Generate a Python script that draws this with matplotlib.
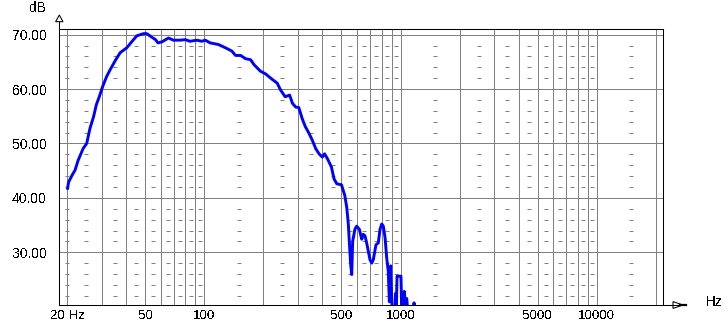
import numpy as np
import matplotlib
matplotlib.use("Agg")
import matplotlib.pyplot as plt
from matplotlib.patches import Polygon

plt.rcParams['font.family'] = ['Liberation Sans', 'DejaVu Sans']
plt.rcParams['text.antialiased'] = False

# ---- data ----
freq_hz = [20, 20.3, 21.1, 21.9, 22.7, 24.1, 25.1, 26.1, 27.2, 28.1, 29.1, 30.3,
           31.8, 33.1, 35.3, 37.2, 40.2, 42.8, 45.2, 48.9, 50.8, 53.7, 56.3, 58.0,
           60.8, 65.6, 69.5, 75.5, 79.9, 84.3, 91.4, 97, 101, 107, 118, 128, 138,
           144, 153, 162, 172, 179, 193, 205, 218, 235, 244, 258, 272, 281, 292,
           303, 315, 327, 341, 355, 369, 384, 399, 410, 424, 444, 458, 473, 500,
           520, 532, 542, 548, 557, 564, 570, 586, 598, 617, 634, 646, 659, 672,
           699, 713, 726, 750, 770, 786, 802, 817, 834, 850, 866, 877, 891, 902,
           915, 935, 942, 950, 960, 1005, 1015, 1025, 1035, 1045, 1060, 1075,
           1090, 1160, 1172, 1185, 1300]
level_db = [41.5, 42.9, 44.1, 45.1, 46.9, 49.1, 50.0, 52.8, 54.9, 57.1, 58.6, 60.5,
            62.4, 63.6, 65.4, 66.7, 67.6, 68.8, 69.8, 70.2, 70.2, 69.6, 69.1, 68.5,
            68.7, 69.4, 69.0, 69.0, 69.1, 68.8, 69.0, 68.8, 69.0, 68.5, 68.2, 67.6, 67.0,
            66.2, 66.2, 65.6, 65.4, 64.5, 63.3, 62.8, 62.0, 61.1, 59.9, 58.6, 58.9, 57.4, 56.7,
            56.6, 54.6, 53.1, 51.9, 50.6, 49.1, 48.1, 47.5, 48.1, 47.2, 45.7, 43.5, 42.6, 42.4,
            40.4, 38.2, 35.1, 32.0, 27.7, 25.9, 32.0, 34.3, 34.8, 34.2, 32.4, 33.3, 33.0, 31.7,
            28.6, 28.0, 28.6, 31.4, 31.7, 34.2, 35.2, 34.8, 32.7, 29.0, 26.5, 20.9, 27.5, 20.9,
            18.0, 18.0, 22.4, 19.0, 25.6, 25.6, 19.0, 22.5, 19.5, 22.8, 20.0, 21.5,
            19.0, 18.0, 20.7, 18.0, 15.0]

major_ticks = [20, 50, 100, 500, 1000, 5000, 10000]
major_labels = ["20 Hz", "50", "100", "500", "1000", "5000", "10000"]
minor_grid = [30, 40, 60, 70, 80, 90, 200, 300, 400, 600, 700, 800, 900,
              2000, 3000, 4000, 6000, 7000, 8000, 9000, 20000]
y_ticks = [30, 40, 50, 60, 70]
y_labels = ["30.00", "40.00", "50.00", "60.00", "70.00"]
dash_freqs = [20, 25, 35, 45, 55, 65, 75, 85, 95, 150, 250, 350, 450, 550, 650,
              750, 850, 950, 1500, 2500, 3500, 4500, 5500, 6500, 7500, 8500,
              9500, 15000]
dash_levels = [22, 24, 26, 28, 32, 34, 36, 38, 42, 44, 46, 48, 52, 54, 56, 58,
               62, 64, 66, 68]

W, H = 728, 326
fig = plt.figure(figsize=(W / 100, H / 100), dpi=100)
ax_l, ax_r, ax_t, ax_b = 59.3, 663.3, 29.3, 305.0
ax = fig.add_axes([ax_l / W, 1 - ax_b / H, (ax_r - ax_l) / W, (ax_b - ax_t) / H])
aw, ah = ax_r - ax_l, ax_b - ax_t

ax.set_xscale('log')
ax.set_xlim(18.2, 21870)
ax.set_ylim(20.3, 71.0)

grid_c = '#808080'
ax.set_xticks(major_ticks)
ax.set_xticklabels(major_labels)
ax.set_xticks(minor_grid, minor=True)
ax.set_xticklabels([], minor=True)
ax.set_yticks(y_ticks)
ax.set_yticklabels(y_labels)
ax.tick_params(which='both', length=0)
ax.tick_params(axis='x', pad=3.5, labelsize=9.6)
ax.tick_params(axis='y', pad=9, labelsize=10)
ax.grid(True, which='both', color=grid_c, linewidth=0.72, antialiased=False)
ax.set_axisbelow(True)

# small minor dashes
dx = np.repeat(dash_freqs, len(dash_levels))
dy = np.tile(dash_levels, len(dash_freqs))
ax.plot(dx, dy, linestyle='none', marker='_', markersize=3.2,
        markeredgewidth=0.72, color=grid_c, antialiased=False, zorder=1)

# curve
ax.plot(freq_hz, level_db, color='#0000ff', linewidth=2.1, zorder=3,
        solid_joinstyle='round', solid_capstyle='butt')

for s in ax.spines.values():
    s.set_color('black')
    s.set_linewidth(0.75)

# axis arrows
base_y = 1 + (ax_t - 21.7) / ah
apex_y = 1 + (ax_t - 15.0) / ah
hw = 3.7 / aw
ax.plot([0, 0], [1, base_y], transform=ax.transAxes, color='black',
        linewidth=0.75, clip_on=False)
ax.add_patch(Polygon([[-hw, base_y], [hw, base_y], [0, apex_y]], closed=True,
                     transform=ax.transAxes, facecolor='white', edgecolor='black',
                     linewidth=0.75, clip_on=False))
bx = 1 + (673 - ax_r) / aw
apx = 1 + (683 - ax_r) / aw
endx = 1 + (686 - ax_r) / aw
hh = 3.4 / ah
ax.add_patch(Polygon([[bx, -hh], [bx, hh], [apx, 0]], closed=True,
                     transform=ax.transAxes, facecolor='white', edgecolor='black',
                     linewidth=0.75, clip_on=False))
ax.plot([1, endx], [0, 0], transform=ax.transAxes, color='black',
        linewidth=0.75, clip_on=False, zorder=5)
ax.plot([1 + (680 - ax_r) / aw, endx], [0, 0], transform=ax.transAxes,
        color='black', linewidth=1.6, clip_on=False, zorder=5)

fig.text(37.5 / W, 1 - 7.5 / H, "dB", ha='center', va='center', fontsize=9.8)
fig.text(714.5 / W, 1 - 302.5 / H, "Hz", ha='center', va='center', fontsize=9.8)

fig.savefig("out.png", dpi=100)
